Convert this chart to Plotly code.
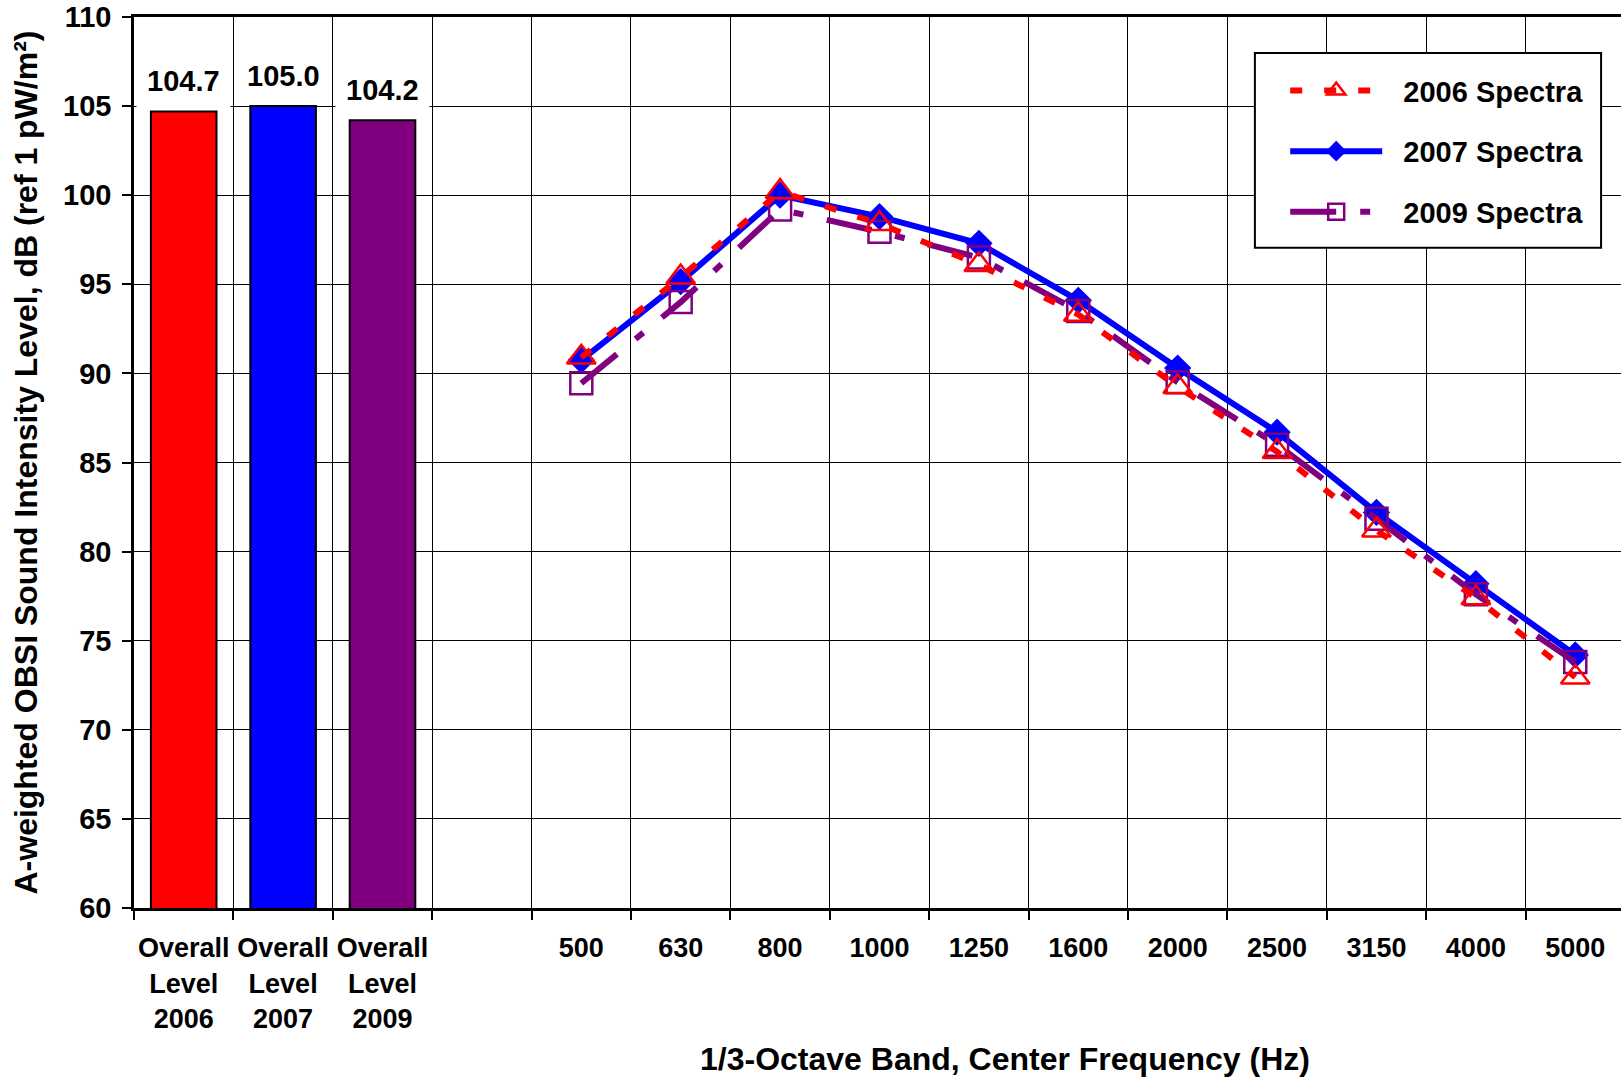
import plotly.graph_objects as go

# ---- data ----
categories = ["Overall<br>Level<br>2006", "Overall<br>Level<br>2007", "Overall<br>Level<br>2009", " ",
              "500", "630", "800", "1000", "1250", "1600", "2000", "2500", "3150", "4000", "5000"]
overall_cats = ["Overall<br>Level<br>2006", "Overall<br>Level<br>2007", "Overall<br>Level<br>2009"]
overall_values = [104.7, 105.0, 104.2]
overall_colors = ["#FF0000", "#0000FF", "#800080"]

bands = ["500", "630", "800", "1000", "1250", "1600", "2000", "2500", "3150", "4000", "5000"]
spectra_2006 = [90.9, 95.4, 100.2, 98.4, 96.1, 93.3, 89.25, 85.6, 81.2, 77.4, 72.95]
spectra_2007 = [90.75, 95.15, 100.0, 98.8, 97.3, 94.1, 90.3, 86.7, 82.2, 78.2, 74.2]
spectra_2009 = [89.45, 94.0, 99.2, 97.95, 96.5, 93.5, 89.5, 86.0, 81.85, 77.6, 73.8]

FONT = "Liberation Sans, Arial, sans-serif"
FS = 27
PAD = "\u00a0\u00a0"  # small gap between legend sample and its label

fig = go.Figure()

fig.add_trace(go.Bar(
    x=overall_cats, y=overall_values, width=0.66,
    marker=dict(color=overall_colors, line=dict(color="black", width=2)),
    showlegend=False, hoverinfo="skip"))

# 2007 (bottom layer)
fig.add_trace(go.Scatter(
    x=bands, y=spectra_2007, mode="lines+markers", name=PAD + "2007 Spectra",
    legendrank=2, legendgroup="b",
    line=dict(color="#0000FF", width=6),
    marker=dict(symbol="diamond", size=21, color="#0000FF", line=dict(width=0))))
# 2009
fig.add_trace(go.Scatter(
    x=bands, y=spectra_2009, mode="lines+markers", name=PAD + "2009 Spectra",
    legendrank=3, legendgroup="c",
    line=dict(color="#800080", width=6, dash="46px,24px,10px,24px"),
    marker=dict(symbol="square-open", size=22, color="#800080", line=dict(width=2.5))))
# 2006
fig.add_trace(go.Scatter(
    x=bands, y=spectra_2006, mode="lines+markers", name=PAD + "2006 Spectra",
    legendrank=1, legendgroup="a",
    line=dict(color="#FF0000", width=6, dash="12px,22px"),
    marker=dict(symbol="triangle-up-open", size=25, color="#FF0000", line=dict(width=2.5))))

# value labels over the overall bars
for c, v in zip(overall_cats, overall_values):
    fig.add_annotation(x=c, y=v, text=f"{v:.1f}", showarrow=False, yanchor="bottom",
                       yshift=3, borderpad=10, bgcolor="white",
                       font=dict(family=FONT, size=29, color="black", weight="bold"))

# x-axis title
fig.add_annotation(x=0.586, y=-0.169, xref="paper", yref="paper",
                   text="1/3-Octave Band, Center Frequency (Hz)", showarrow=False,
                   xanchor="center", yanchor="middle",
                   font=dict(family=FONT, size=32, color="black", weight="bold"))

# legend frame
fig.add_shape(type="rect", xref="paper", yref="paper", x0=0.7538, x1=0.9866, y0=0.7409, y1=0.9596,
              line=dict(color="black", width=2), fillcolor="white", layer="above")

fig.update_layout(
    width=1621, height=1079,
    margin=dict(l=134, r=0, t=17, b=171, autoexpand=False),
    plot_bgcolor="white", paper_bgcolor="white",
    font=dict(family=FONT, size=FS, color="black"),
    bargap=0.34,
    legend=dict(x=0.754, y=0.946, xanchor="left", yanchor="top",
                bgcolor="rgba(0,0,0,0)", borderwidth=0,
                font=dict(family=FONT, size=29, color="black", weight="bold"),
                tracegroupgap=20, itemwidth=92, indentation=30),
    xaxis=dict(type="category", categoryorder="array", categoryarray=categories,
               range=[-0.5, 14.46], tickson="boundaries", automargin=False,
               showgrid=True, gridcolor="black", gridwidth=1,
               ticks="outside", ticklen=9, tickcolor="black", tickwidth=1.5,
               showline=True, linecolor="black", linewidth=3, mirror=True,
               tickangle=0, ticklabelstandoff=14,
               tickfont=dict(family=FONT, size=FS, color="black", weight="bold")),
    yaxis=dict(range=[60, 110], dtick=5, tick0=60, automargin=False,
               showgrid=True, gridcolor="black", gridwidth=1,
               ticks="outside", ticklen=9, tickcolor="black", tickwidth=1.5,
               showline=True, linecolor="black", linewidth=2.5, zeroline=False,
               ticklabelstandoff=5, ticklabeloverflow="allow",
               tickfont=dict(family=FONT, size=29, color="black", weight="bold"),
               title=dict(text="A-weighted OBSI Sound Intensity Level, dB (ref 1 pW/m²)",
                          standoff=16,
                          font=dict(family=FONT, size=32, color="black", weight="bold"))),
)

# remove the default 8px page margin so the 1621x1079 figure fills the window
fig.write_html("out.html", config={"displayModeBar": False},
               post_script="document.body.style.margin='0';document.body.style.overflow='hidden';")
